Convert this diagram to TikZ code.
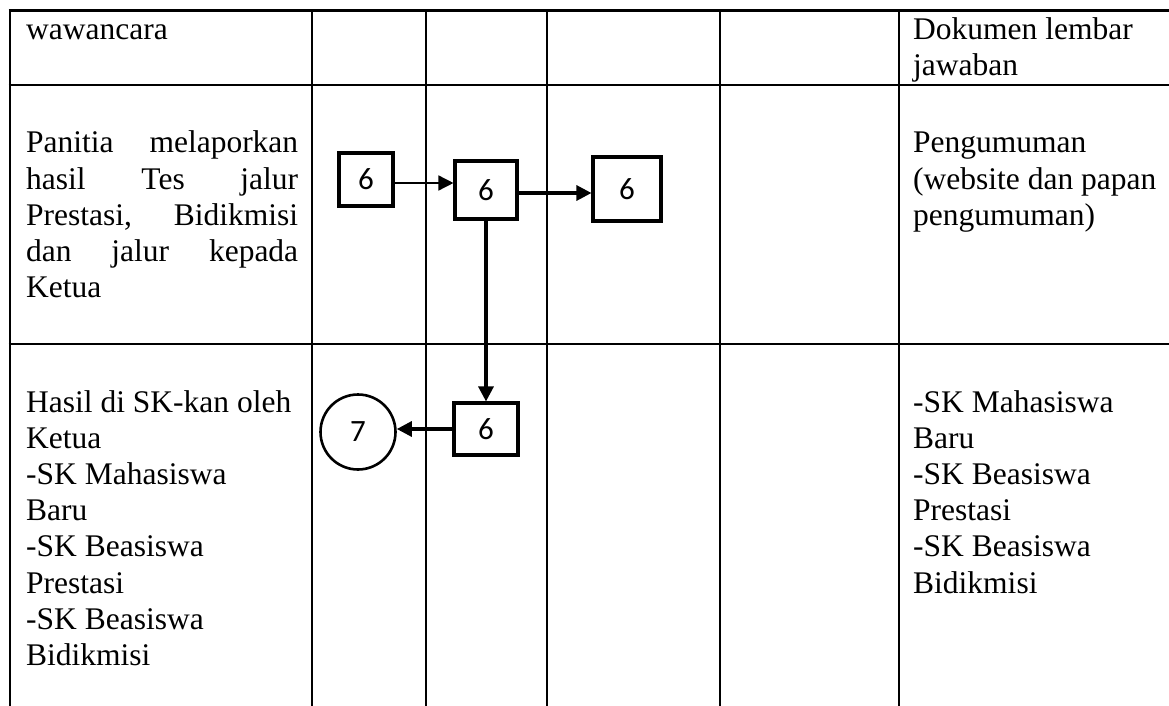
\documentclass[tikz,border=0pt]{standalone}
\usepackage{fontspec}
\setmainfont{Liberation Serif}
\newfontfamily\digitfont{Carlito}
\usetikzlibrary{arrows.meta}
\begin{document}
\begin{tikzpicture}[x=1pt,y=-1pt,
  grid/.style={line width=2.8pt},
  txt/.style={anchor=base west, inner sep=0pt, font=\fontsize{31.5}{36.2}\selectfont},
  stepbox/.style={draw, line width=3.1pt, inner sep=0pt, font=\digitfont\fontsize{31}{31}\selectfont},
  endcircle/.style={draw, circle, line width=2.6pt, inner sep=0pt, minimum size=75pt, font=\digitfont\fontsize{31}{31}\selectfont},
  thinarrow/.style={line width=1.5pt, -{Triangle[length=15pt,width=15pt]}},
  thickarrow/.style={line width=3.1pt, -{Triangle[length=15pt,width=15pt]}}]
\useasboundingbox (0,0) rectangle (1169,706);

% table grid
\draw[grid] (8.6,10.7) -- (1170,10.7);
\draw[grid] (8.6,85) -- (1170,85);
\draw[grid] (8.6,344) -- (1170,344);
\foreach \xx in {10,312,426,547,720,899}
  \draw[grid] (\xx,9.3) -- (\xx,707);

% row 1 texts
\node[txt] (r1a) at (26,39.5) {wawancara};
\node[txt] (r1b) at (913,39.5) {Dokumen lembar};
\node[txt] (r1c) at (913,75.7) {jawaban};

% row 2 left (justified)
\node[txt] (r2a) at (26,153) {\hbox to 272pt{Panitia\hfill melaporkan}};
\node[txt] (r2b) at (26,189.2) {\hbox to 272pt{hasil\hfill Tes\hfill jalur}};
\node[txt] (r2c) at (26,225.4) {\hbox to 272pt{Prestasi,\hfill Bidikmisi}};
\node[txt] (r2d) at (26,261.6) {\hbox to 272pt{dan\hfill jalur\hfill kepada}};
\node[txt] (r2e) at (26,297.8) {Ketua};

% row 2 right
\node[txt] (r2f) at (913,153) {Pengumuman};
\node[txt] (r2g) at (913,189.2) {(website dan papan};
\node[txt] (r2h) at (913,225.4) {pengumuman)};

% row 3 left
\foreach \t [count=\i from 0] in {Hasil di SK-kan oleh,Ketua,-SK Mahasiswa,Baru,-SK Beasiswa,Prestasi,-SK Beasiswa,Bidikmisi}
  \node[txt] (r3l\i) at (26,412+36.2*\i) {\t};

% row 3 right
\foreach \t [count=\i from 0] in {-SK Mahasiswa,Baru,-SK Beasiswa,Prestasi,-SK Beasiswa,Bidikmisi}
  \node[txt] (r3r\i) at (913,412+36.2*\i) {\t};

% flow boxes
\node[stepbox, minimum width=54pt, minimum height=53pt] (b1) at (366,179.5) {6};
\node[stepbox, minimum width=62pt, minimum height=58pt] (b2) at (486,190) {6};
\node[stepbox, minimum width=68pt, minimum height=64pt] (b3) at (627,189) {6};
\node[stepbox, minimum width=64pt, minimum height=52pt] (b4) at (486,429) {6};
\node[endcircle] (c7) at (358,432) {7};

% connectors
\draw[thinarrow] (b1.east |- 0,183) -- (b2.west |- 0,183);
\draw[thickarrow] (b2.east |- 0,193) -- (b3.west |- 0,193);
\draw[thickarrow] (b2.south) -- (b4.north);
\draw[thickarrow] (b4.west) -- (c7.east |- b4.west);
\end{tikzpicture}
\end{document}
